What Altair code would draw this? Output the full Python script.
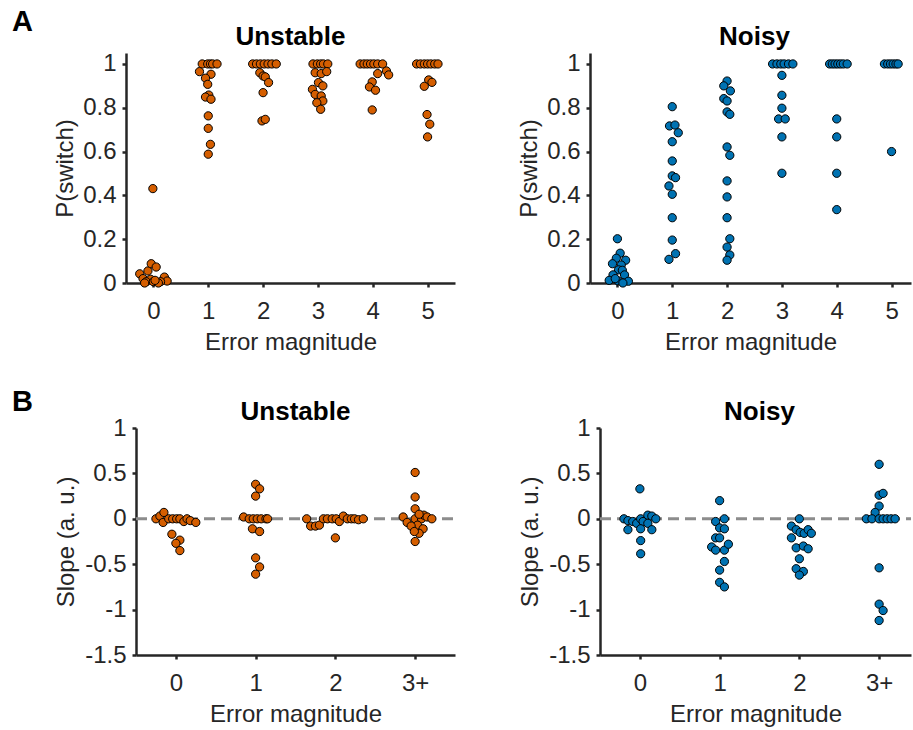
import altair as alt
import pandas as pd

ORANGE = "#D55E00"
BLUE = "#0072B2"
AXIS_COLOR = "#262626"
FONT = "Liberation Sans"

# ---------------- Panel A: P(switch) per error magnitude ----------------
A_X_LABELS = ["0", "1", "2", "3", "4", "5"]
A_Y_TICKS = [0, 0.2, 0.4, 0.6, 0.8, 1]

A_UNSTABLE_P = [
    [0.431, 0.042, 0.055, 0.088, 0.073, 0.020, 0.017, 0.027, 0.009, 0.006, 0.006, 0.006, 0.0, 0.0, 0.012],
    [1, 1, 1, 1, 1, 0.965, 0.953, 0.935, 0.907, 0.858, 0.849, 0.839, 0.763, 0.706, 0.633, 0.588],
    [1, 1, 1, 1, 1, 1, 1, 0.960, 0.945, 0.941, 0.915, 0.869, 0.740, 0.747],
    [1, 1, 1, 1, 1, 0.960, 0.956, 0.965, 0.915, 0.900, 0.884, 0.861, 0.854, 0.831, 0.823, 0.793],
    [1, 1, 1, 1, 1, 1, 1, 0.956, 0.968, 0.950, 0.918, 0.895, 0.880, 0.790],
    [1, 1, 1, 1, 1, 1, 1, 0.927, 0.916, 0.898, 0.769, 0.725, 0.667],
]
A_UNSTABLE_DX = [
    [-0.01, -0.25, -0.10, -0.04, 0.05, -0.19, -0.05, 0.20, 0.25, 0.13, -0.13, 0.0, 0.09, -0.16, 0.03],
    [-0.11, -0.01, 0.04, 0.08, 0.16, -0.16, 0.05, -0.05, -0.01, 0.01, -0.05, 0.05, 0.0, 0.0, 0.04, 0.0],
    [-0.19, -0.12, -0.05, 0.02, 0.09, 0.16, 0.24, -0.06, 0.0, 0.04, 0.10, 0.0, -0.02, 0.04],
    [-0.09, -0.01, 0.05, 0.10, 0.18, -0.05, 0.06, 0.16, 0.01, 0.09, -0.10, -0.05, 0.06, 0.09, -0.02, 0.05],
    [-0.23, -0.16, -0.10, -0.04, 0.02, 0.09, 0.18, 0.09, 0.25, 0.29, -0.01, -0.06, 0.05, -0.01],
    [-0.20, -0.13, -0.06, 0.0, 0.06, 0.13, 0.19, 0.02, 0.08, -0.06, -0.01, 0.04, 0.0],
]

A_NOISY_P = [
    [0.202, 0.136, 0.113, 0.104, 0.088, 0.082, 0.060, 0.058, 0.037, 0.037, 0.012, 0.010, 0.008, 0.020, 0.0],
    [0.805, 0.717, 0.721, 0.686, 0.645, 0.557, 0.489, 0.481, 0.443, 0.405, 0.298, 0.196, 0.134, 0.108],
    [0.922, 0.900, 0.877, 0.842, 0.831, 0.781, 0.770, 0.621, 0.583, 0.466, 0.393, 0.298, 0.202, 0.164, 0.128, 0.104],
    [1, 1, 1, 1, 1, 1, 0.948, 0.857, 0.798, 0.749, 0.749, 0.667, 0.501],
    [1, 1, 1, 1, 1, 1, 1, 0.749, 0.667, 0.501, 0.335],
    [1, 1, 1, 1, 1, 1, 0.600],
]
A_NOISY_DX = [
    [0.0, 0.05, -0.02, 0.15, -0.09, 0.07, 0.02, 0.09, -0.08, 0.13, -0.15, 0.01, 0.20, -0.04, 0.10],
    [0.0, -0.05, 0.05, 0.11, 0.0, 0.0, 0.0, 0.06, -0.06, 0.0, 0.0, 0.0, 0.06, -0.06],
    [0.0, -0.06, 0.06, -0.06, 0.0, 0.0, 0.05, 0.0, 0.05, 0.0, 0.0, 0.0, 0.05, 0.0, 0.05, 0.0],
    [-0.17, -0.09, -0.02, 0.04, 0.12, 0.20, 0.0, 0.0, 0.0, -0.06, 0.06, 0.0, 0.0],
    [-0.13, -0.08, -0.03, 0.02, 0.07, 0.12, 0.19, 0.0, 0.0, 0.0, 0.0],
    [-0.13, -0.07, -0.02, 0.03, 0.08, 0.12, 0.0],
]

# ---------------- Panel B: slope per error magnitude ----------------
B_X_LABELS = ["0", "1", "2", "3+"]
B_Y_TICKS = [-1.5, -1, -0.5, 0, 0.5, 1]

B_UNSTABLE_SLOPE = [
    [0, 0.03, 0.07, -0.04, 0, 0, 0, 0, -0.03, 0, -0.02, -0.04, -0.17, -0.235, -0.27, -0.35],
    [0.38, 0.33, 0.25, 0.02, 0, 0, 0, 0, 0, 0, -0.11, -0.14, -0.43, -0.53, -0.61],
    [0, -0.08, -0.08, -0.07, 0, 0, 0, 0, -0.03, 0.03, 0, 0, 0, -0.01, 0, -0.21],
    [0.51, 0.24, 0.11, 0.02, -0.04, 0, 0, 0.04, 0.02, 0, 0.05, -0.07, -0.08, -0.11, -0.16, -0.14, -0.25],
]
B_UNSTABLE_DX = [
    [-0.25, -0.20, -0.15, -0.16, -0.09, -0.04, 0.01, 0.05, 0.10, 0.14, 0.18, 0.25, -0.05, 0.05, 0.0, 0.05],
    [0.0, 0.05, 0.0, -0.15, -0.08, -0.03, 0.02, 0.07, 0.13, 0.15, -0.04, 0.05, 0.0, 0.05, 0.0],
    [-0.36, -0.31, -0.25, -0.20, -0.15, -0.10, -0.04, 0.01, 0.05, 0.10, 0.15, 0.20, 0.24, 0.29, 0.35, 0.0],
    [0.0, 0.0, 0.0, -0.15, -0.10, 0.0, 0.08, 0.11, 0.15, 0.21, 0.05, 0.03, -0.05, 0.10, 0.05, -0.01, 0.0],
]

B_NOISY_SLOPE = [
    [0.33, 0, -0.02, -0.03, -0.05, 0, -0.03, 0.04, 0.03, 0, -0.05, -0.12, -0.11, -0.12, -0.24, -0.385],
    [0.20, -0.03, 0, -0.10, -0.11, -0.21, -0.21, -0.31, -0.345, -0.345, -0.28, -0.47, -0.565, -0.70, -0.75],
    [0, -0.08, -0.12, -0.15, -0.16, -0.12, -0.16, -0.21, -0.32, -0.30, -0.33, -0.44, -0.55, -0.58, -0.62],
    [0.60, 0.26, 0.28, 0.14, 0.07, 0, 0, 0, 0, 0, 0, 0, -0.54, -0.94, -1.01, -1.12],
]
B_NOISY_DX = [
    [0.0, -0.20, -0.15, -0.09, -0.04, 0.01, 0.04, 0.10, 0.15, 0.20, 0.10, -0.15, 0.01, 0.15, 0.01, 0.01],
    [0.0, -0.05, 0.06, 0.0, 0.06, -0.05, 0.0, -0.10, -0.05, 0.06, 0.11, 0.06, 0.0, 0.0, 0.06],
    [0.0, -0.10, -0.04, 0.01, 0.06, 0.11, 0.15, -0.10, -0.04, 0.05, 0.11, 0.0, -0.04, 0.05, 0.0],
    [0.0, 0.0, 0.05, 0.0, -0.05, -0.16, -0.09, 0.0, 0.05, 0.10, 0.15, 0.20, 0.0, 0.0, 0.05, 0.0],
]


def swarm_frame(values, offsets):
    rows = []
    for g, (vals, offs) in enumerate(zip(values, offsets)):
        for v, o in zip(vals, offs):
            rows.append({"x": g + o, "y": v, "group": g})
    return pd.DataFrame(rows)


def panel(values, offsets, color, title, ytitle, ytitle_x, ydomain, yticks,
          xlabels, xdomain, width, height, title_x, x0=0, letter=None,
          letter_dx=0, letter_dy=0, title_dy=-8, zero_line=False):
    """x0: left inset (px) of the plotting range inside the view."""
    df = swarm_frame(values, offsets)
    xscale = alt.Scale(domain=xdomain, range=[x0, width], nice=False, zero=False)
    yscale = alt.Scale(domain=ydomain, nice=False, zero=False)
    label_list = "[" + ",".join("'%s'" % s for s in xlabels) + "]"
    xaxis = alt.Axis(values=list(range(len(xlabels))),
                     labelExpr=label_list + "[round(datum.value)]",
                     title="Error magnitude")
    yaxis = alt.Axis(values=yticks, labelExpr="'' + datum.value", title=ytitle,
                     titleX=ytitle_x, titleBaseline="bottom", titleAngle=270,
                     offset=-x0)

    layers = []
    if zero_line:
        rule = alt.Chart(pd.DataFrame({"y": [0]})).mark_rule(
            color="#8c8c8c", strokeWidth=3, strokeDash=[11, 6]
        ).encode(y=alt.Y("y:Q", scale=yscale, axis=yaxis),
                 x=alt.value(x0), x2=alt.value(width))
        layers.append(rule)
    pts = alt.Chart(df).mark_circle(
        size=68, opacity=1, fill=color, stroke="black", strokeWidth=1
    ).encode(
        x=alt.X("x:Q", scale=xscale, axis=xaxis),
        y=alt.Y("y:Q", scale=yscale, axis=yaxis),
    )
    layers.append(pts)
    ttl = alt.Chart(pd.DataFrame({"t": [title]})).mark_text(
        font=FONT, fontSize=26, fontWeight="bold", color="black",
        align="center", baseline="alphabetic"
    ).encode(x=alt.value(title_x), y=alt.value(title_dy), text="t:N")
    layers.append(ttl)
    if letter is not None:
        let = alt.Chart(pd.DataFrame({"t": [letter]})).mark_text(
            font=FONT, fontSize=29, fontWeight="bold", color="black",
            align="left", baseline="alphabetic"
        ).encode(x=alt.value(letter_dx), y=alt.value(letter_dy), text="t:N")
        layers.append(let)
    return alt.layer(*layers).properties(width=width, height=height)


PX_A = 54.83   # pixels per unit, panel A x
PX_B = 79.75   # pixels per unit, panel B x

a_unst = panel(A_UNSTABLE_P, A_UNSTABLE_DX, ORANGE, "Unstable", "P(switch)", -49,
               [0, 1.05], A_Y_TICKS, A_X_LABELS, [-0.5, 5.5], 329, 230,
               164.5, letter="A", letter_dx=-114, letter_dy=-22)
a_noisy_w = 321
a_noisy = panel(A_NOISY_P, A_NOISY_DX, BLUE, "Noisy", "P(switch)", -49,
                [0, 1.05], A_Y_TICKS, A_X_LABELS,
                [-0.5, -0.5 + a_noisy_w / PX_A], a_noisy_w, 230, 164.5)
b_unst = panel(B_UNSTABLE_SLOPE, B_UNSTABLE_DX, ORANGE, "Unstable", "Slope (a. u.)", -58,
               [-1.5, 1], B_Y_TICKS, B_X_LABELS, [-0.5, 3.5], 329, 227,
               169.5, x0=10, letter="B", letter_dx=-114, letter_dy=-17,
               title_dy=-8.5, zero_line=True)
b_noisy_w = 311
b_noisy = panel(B_NOISY_SLOPE, B_NOISY_DX, BLUE, "Noisy", "Slope (a. u.)", -58,
                [-1.5, 1], B_Y_TICKS, B_X_LABELS,
                [-0.5, -0.5 + b_noisy_w / PX_B], b_noisy_w, 227, 159.5,
                title_dy=-8.5, zero_line=True)

row_a = alt.hconcat(a_unst, a_noisy, spacing=135, bounds="flush")
row_b = alt.hconcat(b_unst, b_noisy, spacing=145, bounds="flush")

chart = alt.vconcat(row_a, row_b, spacing=33).properties(
    padding={"left": 12, "top": 8, "right": 0, "bottom": 0}
).configure_view(stroke=None).configure_axis(
    domainColor=AXIS_COLOR, domainWidth=2.5, tickColor=AXIS_COLOR,
    tickWidth=2.5, tickSize=4, labelFont=FONT, labelFontSize=24,
    labelColor=AXIS_COLOR, titleFont=FONT, titleFontSize=24,
    titleColor=AXIS_COLOR, titleFontWeight="normal", grid=False,
).configure_axisX(labelPadding=12.5, titlePadding=7).configure_axisY(
    labelPadding=6
)

chart.save("out.html", embed_options={"renderer": "svg", "actions": False})
